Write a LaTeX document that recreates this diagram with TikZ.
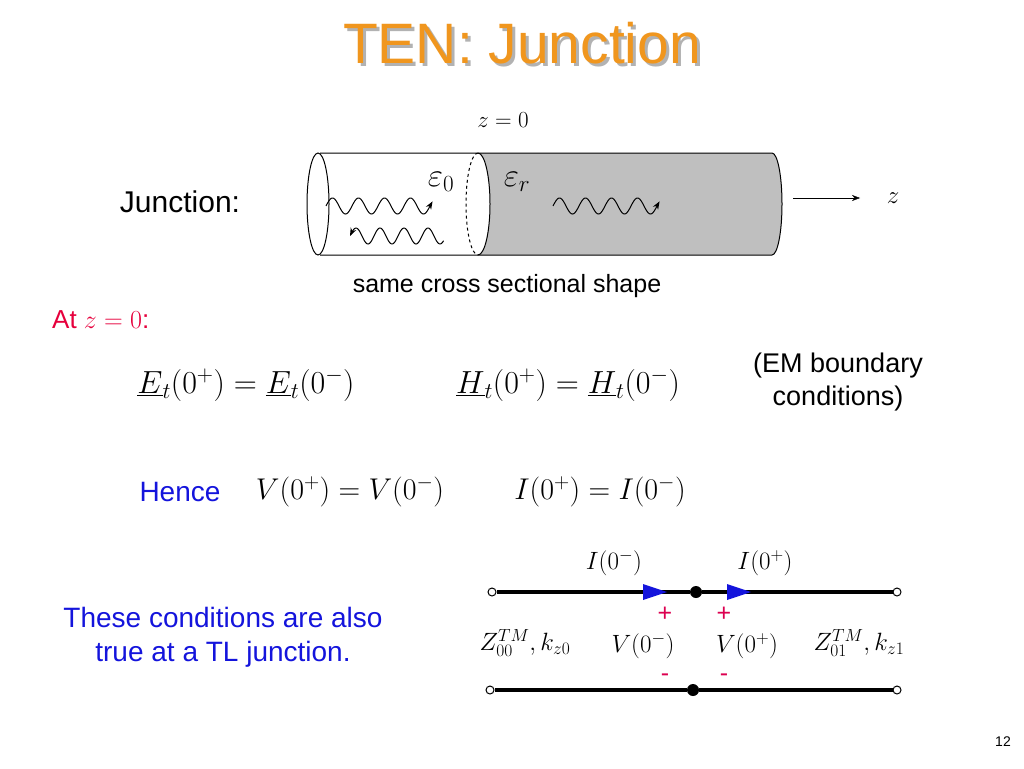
\RequirePackage{fix-cm}
\documentclass[tikz,border=0pt]{standalone}
\usepackage{fontspec}
\setmainfont{Liberation Sans}
\usetikzlibrary{arrows.meta}
\definecolor{ttl}{RGB}{240,150,30}
\definecolor{atred}{RGB}{230,0,60}
\definecolor{blu}{RGB}{20,20,220}
\definecolor{pk}{RGB}{220,0,80}
\tikzset{
  lbl/.style={font=\fontsize{30}{34}\selectfont, inner sep=0pt},
  eq/.style={font=\fontsize{32}{36}\selectfont, inner sep=0pt},
  sm/.style={font=\fontsize{25}{30}\selectfont, inner sep=0pt},
  wire/.style={line width=3.4pt},
  term/.style={circle, draw, line width=1pt, fill=white, minimum size=8pt, inner sep=0pt},
  dot/.style={circle, fill=black, minimum size=12pt, inner sep=0pt},
  wave/.style={line width=1pt},
}
\begin{document}
\begin{tikzpicture}[x=1pt,y=-1pt]
\useasboundingbox (0,0) rectangle (1024,768);
% title
\node[font=\fontsize{57}{60}\selectfont, text=gray!60, inner sep=0pt] (tsh) at (525,46) {TEN: Junction};
\node[font=\fontsize{57}{60}\selectfont, text=ttl, inner sep=0pt] (title) at (522,43) {TEN: Junction};
% cylinder
\fill[gray!50] (478,153) arc[start angle=90,end angle=-90,x radius=12pt,y radius=51pt] -- (772,255) arc[start angle=-90,end angle=90,x radius=10pt,y radius=51pt] -- cycle;
\draw[line width=1pt] (320,153) -- (772,153) arc[start angle=90,end angle=-90,x radius=10pt,y radius=51pt] -- (320,255);
\draw[line width=1pt] (318,204) ellipse[x radius=11pt,y radius=51pt];
\draw[line width=1pt] (478,153) arc[start angle=90,end angle=-90,x radius=12pt,y radius=51pt];
\draw[line width=1pt, dashed] (478,153) arc[start angle=90,end angle=270,x radius=12pt,y radius=51pt];
\draw[wave,-{Stealth[length=8pt]}] plot[domain=0:4.1,samples=120] ({326+\x*26},{206-8*sin(\x*360)});
\draw[wave,{Stealth[length=8pt]}-] plot[domain=0:3.9,samples=120] ({350+\x*24},{236-8*sin(\x*360)});
\draw[wave,-{Stealth[length=8pt]}] plot[domain=0:4.1,samples=120] ({553+\x*26},{206-8*sin(\x*360)});
\node[font=\fontsize{33}{36}\selectfont, inner sep=0pt] (e0) at (441,182) {$\varepsilon_0$};
\node[font=\fontsize{33}{36}\selectfont, inner sep=0pt] (er) at (517,182) {$\varepsilon_r$};
\node[font=\fontsize{23}{28}\selectfont, inner sep=0pt] (z0) at (503,120) {$z=0$};
\coordinate (za) at (793,198);
\node[sm] (zz) at (893,198) {$z$};
\draw[-{Stealth[length=8pt]}] (za) -- (860,198);
\node[lbl] (junc) at (180,202) {Junction:};
\node[font=\fontsize{25}{28}\selectfont, inner sep=0pt] (same) at (507,286) {same cross sectional shape};
\node[font=\fontsize{26}{30}\selectfont, inner sep=0pt, text=atred, anchor=west] (at) at (52,320) {At \textcolor{atred}{$z=0$}:};
% equations
\node[eq] (eqE) at (246,385) {$\underline{E}_t\Big(0^+\Big)=\underline{E}_t\Big(0^-\Big)$};
\node[eq] (eqH) at (568,385) {$\underline{H}_t\Big(0^+\Big)=\underline{H}_t\Big(0^-\Big)$};
\node[lbl, align=center, font=\fontsize{27}{33}\selectfont] (em) at (838,382) {(EM boundary\\conditions)};
\node[lbl, text=blu, font=\fontsize{28}{32}\selectfont] (hence) at (180,492) {Hence};
\node[eq, font=\fontsize{30}{34}\selectfont] (eqV) at (350,492) {$V(0^+)=V(0^-)$};
\node[eq, font=\fontsize{30}{34}\selectfont] (eqI) at (600,492) {$I(0^+)=I(0^-)$};
\node[lbl, text=blu, align=center, font=\fontsize{28}{34}\selectfont] (cond) at (223,637) {These conditions are also\\true at a TL junction.};
% TL
\node[term] (t1) at (492,592) {};
\node[term] (t2) at (897,592) {};
\node[term] (b1) at (490,690) {};
\node[term] (b2) at (897,690) {};
\node[dot] (jt) at (696,592) {};
\node[dot] (jb) at (693,690) {};
\draw[wire] (t1) -- (jt) -- (t2);
\draw[wire] (b1) -- (jb) -- (b2);
\fill[blu] (643,584) -- (667,592) -- (643,600) -- cycle;
\fill[blu] (727,584) -- (751,592) -- (727,600) -- cycle;
\node[sm] (i1) at (614,563) {$I(0^-)$};
\node[sm] (i2) at (765,563) {$I(0^+)$};
\node[sm, text=pk] (p1) at (665,614) {+};
\node[sm, text=pk] (p2) at (724,614) {+};
\node[sm] (v1) at (643,646) {$V(0^-)$};
\node[sm] (v2) at (747,646) {$V(0^+)$};
\node[sm, text=pk] (m1) at (665,678) {-};
\node[sm, text=pk] (m2) at (724,678) {-};
\node[sm] (za0) at (525,643) {$Z_{00}^{TM},k_{z0}$};
\node[sm] (za1) at (859,643) {$Z_{01}^{TM},k_{z1}$};
\node[font=\fontsize{14}{16}\selectfont, inner sep=0pt] (pg) at (1003,742) {12};
\end{tikzpicture}
\end{document}
